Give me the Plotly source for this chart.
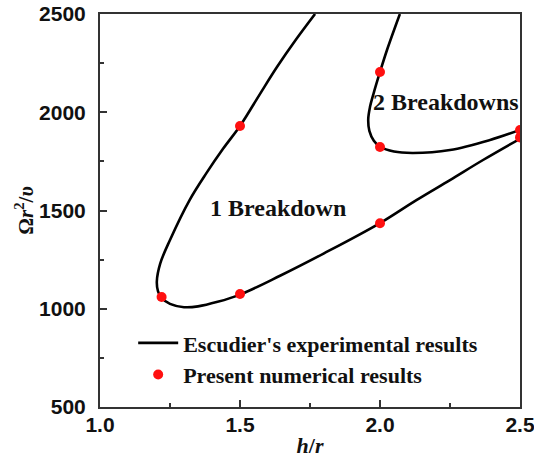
import plotly.graph_objects as go

# Escudier's experimental boundary, curve 1 (one breakdown region boundary)
exp1_x = [1.768, 1.70, 1.632, 1.57, 1.50, 1.44, 1.38, 1.32, 1.25, 1.215, 1.203, 1.207, 1.22, 1.25, 1.30, 1.35, 1.42, 1.50, 1.643, 1.80, 2.00, 2.13, 2.25, 2.368, 2.50]
exp1_y = [2500, 2370, 2230, 2090, 1930, 1815, 1690, 1553, 1350, 1230, 1140, 1090, 1055, 1025, 1008, 1012, 1035, 1072, 1168, 1282, 1436, 1553, 1655, 1757, 1865]

# Escudier's experimental boundary, curve 2 (two breakdowns region boundary)
exp2_x = [2.071, 2.025, 2.00, 1.977, 1.964, 1.958, 1.962, 1.978, 2.00, 2.05, 2.118, 2.25, 2.393, 2.50]
exp2_y = [2500, 2317, 2205, 2095, 2025, 1965, 1905, 1855, 1825, 1800, 1793, 1808, 1859, 1910]

# Present numerical results
num_x = [1.22, 1.50, 1.50, 2.00, 2.00, 2.00, 2.50, 2.50]
num_y = [1060, 1930, 1075, 1435, 1823, 2205, 1910, 1872]

x_ticks = [1.0, 1.5, 2.0, 2.5]
x_ticklabels = ["1.0", "1.5", "2.0", "2.5"]
y_ticks = [500, 1000, 1500, 2000, 2500]
y_ticklabels = ["500", "1000", "1500", "2000", "2500"]

serif = "Liberation Serif"
sans = "Liberation Sans"

fig = go.Figure()
fig.add_trace(go.Scatter(
    x=exp1_x, y=exp1_y, mode="lines", name="Escudier's experimental results",
    line=dict(color="black", width=2.6, shape="spline", smoothing=1.0),
    showlegend=True, legendrank=1,
))
fig.add_trace(go.Scatter(
    x=exp2_x, y=exp2_y, mode="lines", name="exp2",
    line=dict(color="black", width=2.6, shape="spline", smoothing=1.0),
    showlegend=False,
))
fig.add_trace(go.Scatter(
    x=num_x, y=num_y, mode="markers", name="Present numerical results",
    marker=dict(color="#ff1010", size=10), cliponaxis=True,
    showlegend=True, legendrank=2,
))

fig.add_annotation(x=1.634, y=1513, text="<b>1 Breakdown</b>", showarrow=False,
                   font=dict(family=serif, size=24, color="#111"))
fig.add_annotation(x=2.235, y=2050, text="<b>2 Breakdowns</b>", showarrow=False,
                   font=dict(family=serif, size=24, color="#111"))

axis_common = dict(
    showgrid=False, zeroline=False, showline=True, linecolor="#333", linewidth=2,
    mirror=True, ticks="inside", tickcolor="#333", tickwidth=2, ticklen=7,
    tickfont=dict(family=sans, size=21, color="#111", weight="bold"),
    automargin=False, ticklabeloverflow="allow",
)

fig.update_layout(
    width=534, height=459,
    margin=dict(l=100, r=14, t=14, b=52),
    paper_bgcolor="white", plot_bgcolor="white",
    xaxis=dict(range=[1.0, 2.5], tickvals=x_ticks, ticktext=x_ticklabels,
               minor=dict(dtick=0.25, tick0=1.0, ticks="inside", ticklen=4, tickwidth=2, tickcolor="#333"),
               title=dict(text="<b><i>h</i>/<i>r</i></b>", font=dict(family=serif, size=22, color="#111"), standoff=2),
               ticklabelstandoff=-2,
               **axis_common),
    yaxis=dict(range=[500, 2500], tickvals=y_ticks, ticktext=y_ticklabels,
               minor=dict(dtick=250, tick0=500, ticks="inside", ticklen=4, tickwidth=2, tickcolor="#333"),
               title=dict(text="<b>Ω<i>r</i><sup>2</sup>/<i>υ</i></b>", font=dict(family=serif, size=21, color="#111"), standoff=0),
               ticklabelstandoff=8,
               **axis_common),
    legend=dict(x=0.079, y=0.216, xanchor="left", yanchor="top", bgcolor="rgba(0,0,0,0)",
                font=dict(family=serif, size=22, color="#111", weight="bold"),
                tracegroupgap=0, itemwidth=40),
)

fig.write_html("out.html", config={"displayModeBar": False})

# remove default page margin so the figure sits at the window's top-left corner
with open("out.html", "r", encoding="utf-8") as f:
    html = f.read()
html = html.replace("<head>", "<head><style>html,body{margin:0;padding:0;overflow:hidden;}</style>", 1)
with open("out.html", "w", encoding="utf-8") as f:
    f.write(html)
